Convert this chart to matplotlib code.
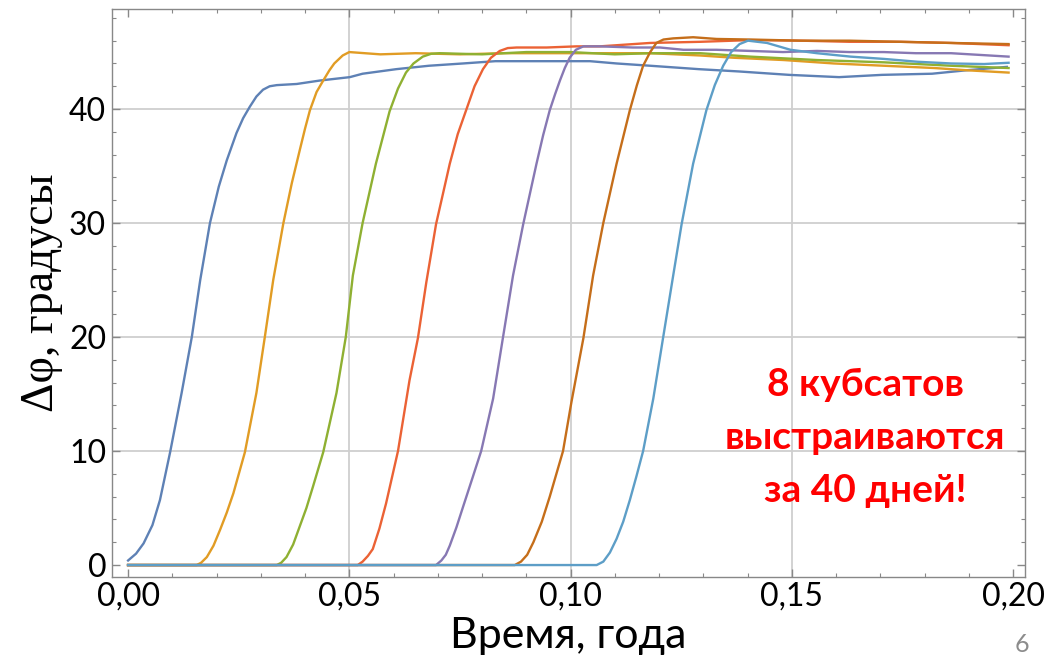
import matplotlib
matplotlib.use("Agg")
import matplotlib.pyplot as plt
from matplotlib.ticker import MultipleLocator, FixedLocator

# ---- data ----
x1 = [0, 0.0018, 0.0035, 0.0055, 0.0072, 0.0095, 0.0121, 0.0144, 0.0163, 0.0185, 0.0205, 0.0223,
      0.0245, 0.026, 0.0275, 0.029, 0.0305, 0.032, 0.0336, 0.0381, 0.0433, 0.0501, 0.053, 0.0606,
      0.068, 0.0757, 0.083, 0.0953, 0.1044, 0.1104, 0.118, 0.129, 0.138, 0.1494, 0.1607, 0.1704,
      0.1817, 0.1894, 0.1986]
y1 = [0.4, 1.0, 1.9, 3.5, 5.7, 9.9, 15.1, 20.0, 25.0, 30.0, 33.2, 35.5,
      37.9, 39.2, 40.2, 41.1, 41.7, 42.0, 42.1, 42.2, 42.5, 42.8, 43.1, 43.5,
      43.8, 44.0, 44.2, 44.2, 44.2, 44.0, 43.8, 43.5, 43.3, 43.0, 42.8, 43.0,
      43.1, 43.4, 43.7]

x2 = [0, 0.0155, 0.0165, 0.0178, 0.0193, 0.0208, 0.0223, 0.0238, 0.0264, 0.029, 0.0309, 0.0328,
      0.0351, 0.037, 0.0388, 0.04, 0.0411, 0.0426, 0.0441, 0.0455, 0.0466, 0.0485, 0.05, 0.057,
      0.065, 0.075, 0.085, 0.0953, 0.118, 0.1293, 0.1369, 0.1482, 0.1595, 0.1708, 0.1822, 0.1897,
      0.199]
y2 = [0, 0, 0.2, 0.7, 1.7, 3.1, 4.6, 6.3, 9.9, 15.1, 20.0, 25.0,
      30.0, 33.5, 36.4, 38.3, 39.9, 41.5, 42.5, 43.4, 44.0, 44.7, 45.0, 44.8,
      44.9, 44.8, 44.9, 44.9, 44.9, 44.7, 44.5, 44.3, 44.0, 43.8, 43.6, 43.4,
      43.2]

x3 = [0, 0.0336, 0.0346, 0.0358, 0.0373, 0.0388, 0.0403, 0.0418, 0.0441, 0.0471, 0.0492, 0.0508,
      0.053, 0.056, 0.0591, 0.061, 0.0628, 0.0645, 0.0666, 0.0685, 0.0704, 0.08, 0.09, 0.1,
      0.11, 0.118, 0.1293, 0.1406, 0.1557, 0.1708, 0.186, 0.199]
y3 = [0, 0, 0.2, 0.7, 1.8, 3.4, 5.0, 6.9, 9.9, 15.1, 20.0, 25.4,
      30.0, 35.2, 39.8, 41.8, 43.2, 44.0, 44.6, 44.85, 44.9, 44.8, 45.0, 45.0,
      44.8, 44.9, 44.9, 44.6, 44.3, 44.1, 43.8, 43.6]

x4 = [0, 0.0519, 0.053, 0.0542, 0.0553, 0.0568, 0.0583, 0.061, 0.0636, 0.0655, 0.0674, 0.0696,
      0.0727, 0.0745, 0.0764, 0.0783, 0.0802, 0.082, 0.084, 0.0858, 0.0878, 0.0946, 0.1013, 0.1066,
      0.118, 0.1293, 0.1406, 0.152, 0.163, 0.1746, 0.186, 0.199]
y4 = [0, 0, 0.3, 0.8, 1.4, 3.2, 5.4, 10.0, 16.2, 19.9, 24.8, 29.9,
      35.2, 37.8, 39.9, 42.0, 43.5, 44.5, 45.1, 45.35, 45.4, 45.4, 45.5, 45.5,
      45.8, 45.9, 46.05, 46.0, 45.9, 45.9, 45.8, 45.6]

x5 = [0, 0.0696, 0.0708, 0.0718, 0.0727, 0.0742, 0.0757, 0.0778, 0.0798, 0.0825, 0.0847, 0.087,
      0.0893, 0.0923, 0.0938, 0.0953, 0.0965, 0.0976, 0.0987, 0.0998, 0.1012, 0.1029, 0.1066, 0.1141,
      0.1202, 0.1255, 0.133, 0.1406, 0.148, 0.1557, 0.163, 0.1708, 0.178, 0.186, 0.199]
y5 = [0, 0, 0.4, 0.9, 1.7, 3.3, 5.1, 7.6, 10.0, 14.6, 19.9, 25.4,
      29.9, 35.2, 37.7, 39.9, 41.3, 42.5, 43.6, 44.5, 45.2, 45.5, 45.5, 45.4,
      45.4, 45.2, 45.2, 45.1, 45.0, 45.1, 45.0, 45.0, 44.9, 44.9, 44.6]

x6 = [0, 0.0874, 0.0888, 0.0902, 0.0916, 0.0935, 0.0953, 0.0968, 0.0983, 0.1002, 0.1029, 0.1051,
      0.1074, 0.1104, 0.1134, 0.115, 0.1164, 0.118, 0.1194, 0.121, 0.1232, 0.1277, 0.133, 0.1406,
      0.152, 0.163, 0.1746, 0.186, 0.199]
y6 = [0, 0, 0.3, 0.9, 2.0, 3.8, 6.0, 8.0, 10.0, 14.3, 19.9, 25.4,
      30.0, 35.2, 39.9, 42.1, 43.8, 45.0, 45.8, 46.1, 46.2, 46.3, 46.15, 46.1,
      46.0, 46.0, 45.9, 45.8, 45.7]

x7 = [0, 0.1059, 0.1074, 0.1089, 0.1104, 0.1119, 0.1134, 0.1149, 0.1164, 0.1187, 0.1209, 0.1232,
      0.1251, 0.1277, 0.1307, 0.1326, 0.1345, 0.1363, 0.1382, 0.1401, 0.1444, 0.1497, 0.1557, 0.1633,
      0.1708, 0.1784, 0.186, 0.1935, 0.199]
y7 = [0, 0, 0.3, 1.1, 2.3, 3.8, 5.7, 7.8, 10.0, 14.6, 19.9, 25.4,
      29.9, 35.2, 39.9, 42.1, 43.8, 45.0, 45.7, 46.0, 45.8, 45.2, 44.9, 44.6,
      44.4, 44.15, 44.0, 43.95, 44.06]

series_x = [x1, x2, x3, x4, x5, x6, x7]
series_y = [y1, y2, y3, y4, y5, y6, y7]
colors = ["#5E81B5", "#E19C24", "#8FB032", "#EB6235", "#8778B3", "#C56E1A", "#5D9EC7"]

x_ticks = [0.0, 0.05, 0.10, 0.15, 0.20]
x_tick_labels = ["0,00", "0,05", "0,10", "0,15", "0,20"]
y_ticks = [0, 10, 20, 30, 40]
x_grid = [0.05, 0.10, 0.15]
y_grid = [10, 20, 30, 40]

xlabel = "Время, года"
ylabel = "Δφ, градусы"
note = "8 кубсатов\nвыстраиваются\nза 40 дней!"

# ---- figure ----
fig = plt.figure(figsize=(10.56, 6.56), dpi=100)
ax = fig.add_axes([0.1058, 0.1204, 0.8648, 0.8654])
ax.set_xlim(-0.0037, 0.2027)
ax.set_ylim(-1.05, 48.75)

for gx in x_grid:
    ax.axvline(gx, color="#cfcfcf", lw=1.3, zorder=1)
for gy in y_grid:
    ax.axhline(gy, color="#cfcfcf", lw=1.3, zorder=1)

for xs, ys, c in zip(series_x, series_y, colors):
    ax.plot(xs, ys, color=c, lw=1.7, zorder=3, solid_joinstyle="round")

for s in ax.spines.values():
    s.set_color("#888888")
    s.set_linewidth(1.0)

ax.xaxis.set_major_locator(FixedLocator(x_ticks))
ax.set_xticklabels(x_tick_labels)
ax.xaxis.set_minor_locator(MultipleLocator(0.01))
ax.yaxis.set_major_locator(FixedLocator(y_ticks))
ax.yaxis.set_minor_locator(MultipleLocator(2))
ax.tick_params(which="both", direction="in", top=True, right=True, color="#888888")
ax.tick_params(which="major", length=6, width=1.0)
ax.tick_params(which="minor", length=3, width=0.8)
ax.tick_params(axis="x", which="major", labelsize=23, pad=3)
ax.tick_params(axis="y", which="major", labelsize=23, pad=4)
for lbl in ax.get_xticklabels() + ax.get_yticklabels():
    lbl.set_family("Lato")

ax.set_xlabel(xlabel, fontsize=31, family="Lato", labelpad=0)
ax.xaxis.set_label_coords(0.5, -0.07)
ax.set_ylabel(ylabel, fontsize=33, family="Liberation Serif", labelpad=4)

ax.text(0.825, 0.245, note, transform=ax.transAxes, color="#FF0000", fontsize=28,
        fontweight="bold", family="Lato", ha="center", va="center", linespacing=1.62)

fig.text(0.968, 0.018, "6", color="#8c8c8c", fontsize=18, family="Lato", ha="center", va="center")

fig.savefig("out.png", dpi=100)
